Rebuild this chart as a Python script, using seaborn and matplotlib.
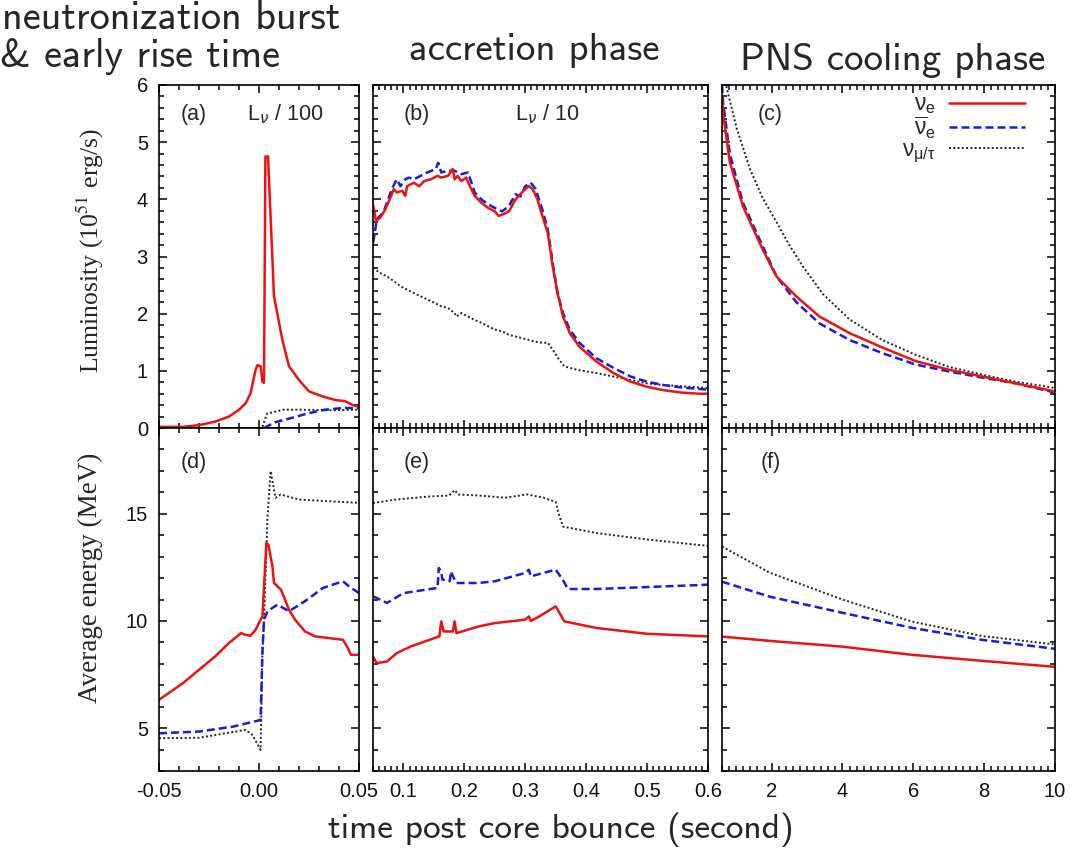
import numpy as np
import pandas as pd
import seaborn as sns
import matplotlib.pyplot as plt
from matplotlib.ticker import MultipleLocator

# ---- (a) luminosity / 100, burst ----
ta_nue = [-0.05, -0.038, -0.03, -0.022, -0.015, -0.01, -0.0067, -0.0042, -0.0017, -0.0008, 0.0008,
          0.0017, 0.0025, 0.0032, 0.0045, 0.0075, 0.0117, 0.015, 0.02, 0.025, 0.032, 0.038, 0.043, 0.047, 0.05]
La_nue = [0.02, 0.02, 0.05, 0.11, 0.2, 0.32, 0.43, 0.61, 1.02, 1.1, 1.08,
          0.81, 0.79, 4.75, 4.75, 2.3, 1.54, 1.08, 0.84, 0.64, 0.55, 0.49, 0.47, 0.40, 0.37]
ta_nuebar = [0.0025, 0.008, 0.0167, 0.025, 0.033, 0.042, 0.05]
La_nuebar = [0.0, 0.1, 0.18, 0.26, 0.32, 0.35, 0.35]
ta_nux = [0.0017, 0.004, 0.012, 0.02, 0.035, 0.05]
La_nux = [0.02, 0.25, 0.32, 0.32, 0.31, 0.32]

# ---- (b) luminosity / 10, accretion ----
tb_nue = [0.05, 0.055, 0.062, 0.07, 0.081, 0.084, 0.089, 0.098, 0.103, 0.106, 0.117, 0.126, 0.134,
          0.145, 0.156, 0.162, 0.173, 0.181, 0.184, 0.189, 0.195, 0.203, 0.209, 0.217, 0.228, 0.239,
          0.25, 0.256, 0.264, 0.273, 0.278, 0.284, 0.292, 0.3, 0.306, 0.312, 0.32, 0.328, 0.337, 0.345,
          0.353, 0.362, 0.373, 0.389, 0.417, 0.445, 0.473, 0.5, 0.528, 0.556, 0.584, 0.6]
Lb_nue = [3.91, 3.62, 3.68, 3.82, 4.09, 4.18, 4.12, 4.15, 4.06, 4.23, 4.29, 4.23, 4.32,
          4.35, 4.41, 4.38, 4.41, 4.53, 4.35, 4.41, 4.32, 4.38, 4.23, 4.06, 3.94, 3.85,
          3.79, 3.71, 3.74, 3.79, 3.88, 4.0, 4.09, 4.18, 4.23, 4.18, 4.0, 3.71, 3.41, 2.83,
          2.36, 1.95, 1.66, 1.42, 1.16, 0.96, 0.81, 0.72, 0.66, 0.62, 0.6, 0.6]
tb_nuebar = [0.05, 0.053, 0.056, 0.067, 0.081, 0.089, 0.095, 0.103, 0.109, 0.117, 0.128, 0.139,
             0.153, 0.157, 0.162, 0.173, 0.184, 0.195, 0.206, 0.217, 0.228, 0.239, 0.25, 0.262,
             0.273, 0.284, 0.292, 0.3, 0.309, 0.317, 0.328, 0.337, 0.345, 0.353, 0.362, 0.373,
             0.389, 0.417, 0.445, 0.473, 0.5, 0.528, 0.556, 0.6]
Lb_nuebar = [3.24, 3.41, 3.65, 3.77, 4.18, 4.35, 4.23, 4.35, 4.38, 4.35, 4.41, 4.47,
             4.53, 4.64, 4.47, 4.5, 4.5, 4.44, 4.47, 4.12, 4.0, 3.91, 3.85, 3.79,
             3.88, 4.09, 4.05, 4.23, 4.29, 4.18, 3.82, 3.47, 2.89, 2.36, 2.01, 1.72,
             1.49, 1.22, 1.05, 0.9, 0.81, 0.75, 0.71, 0.67]
tb_nux = [0.05, 0.062, 0.073, 0.084, 0.095, 0.106, 0.123, 0.139, 0.151, 0.162, 0.173, 0.184, 0.187,
          0.195, 0.206, 0.217, 0.228, 0.239, 0.25, 0.262, 0.273, 0.284, 0.295, 0.306, 0.317, 0.328,
          0.337, 0.345, 0.356, 0.364, 0.384, 0.417, 0.445, 0.473, 0.5, 0.528, 0.6]
Lb_nux = [2.8, 2.71, 2.65, 2.57, 2.48, 2.42, 2.33, 2.25, 2.19, 2.13, 2.1, 2.01, 1.95,
          2.01, 1.95, 1.89, 1.84, 1.78, 1.72, 1.69, 1.63, 1.6, 1.57, 1.54, 1.51, 1.49,
          1.49, 1.37, 1.19, 1.08, 1.02, 0.96, 0.9, 0.84, 0.78, 0.75, 0.7]

# ---- (c) luminosity, cooling ----
tc = [0.6, 0.63, 0.82, 1.19, 1.75, 2.14, 2.7, 3.35, 4.2, 5.12, 6.07, 7.0, 7.96, 8.9, 10.0]
Lc_nue = [5.8, 5.5, 4.65, 3.88, 3.12, 2.65, 2.3, 1.95, 1.66, 1.41, 1.17, 1.02, 0.9, 0.78, 0.64]
Lc_nuebar = [6.0, 5.7, 4.8, 3.94, 3.18, 2.65, 2.2, 1.83, 1.54, 1.31, 1.11, 0.99, 0.88, 0.78, 0.62]
tc_nux = [0.65, 0.74, 1.02, 1.39, 1.75, 2.14, 2.5, 2.88, 3.44, 4.2, 5.12, 6.07, 7.0, 7.96, 8.9, 10.0]
Lc_nux = [6.2, 5.93, 5.23, 4.53, 4.02, 3.6, 3.2, 2.83, 2.35, 1.9, 1.54, 1.28, 1.07, 0.93, 0.81, 0.7]

# ---- (d) mean energy, burst ----
td_nue = [-0.05, -0.038, -0.03, -0.022, -0.015, -0.009, -0.0067, -0.0042, -0.0017, 0.0008, 0.0017,
          0.0037, 0.0047, 0.0067, 0.0075, 0.011, 0.015, 0.018, 0.023, 0.028, 0.035, 0.042, 0.044, 0.046, 0.05]
Ed_nue = [6.32, 7.1, 7.72, 8.34, 8.97, 9.43, 9.35, 9.31, 9.59, 10.06, 10.21,
          13.64, 13.56, 12.55, 11.77, 11.46, 10.52, 10.06, 9.51, 9.28, 9.2, 9.12, 8.81, 8.42, 8.42]
td_nuebar = [-0.05, -0.03, -0.013, 0.0008, 0.0017, 0.0025, 0.0042, 0.0092, 0.015, 0.023, 0.032, 0.042, 0.045, 0.05]
Ed_nuebar = [4.76, 4.84, 5.07, 5.38, 8.5, 10.06, 10.45, 10.76, 10.45, 10.92, 11.54, 11.85, 11.61, 11.3]
td_nux = [-0.05, -0.03, -0.0067, -0.0033, 0.0008, 0.0017, 0.0025, 0.0042, 0.0058, 0.0083, 0.0108, 0.02, 0.05]
Ed_nux = [4.53, 4.55, 4.92, 4.68, 3.98, 8.5, 10.06, 14.73, 16.99, 15.74, 15.9, 15.66, 15.51]

# ---- (e) mean energy, accretion ----
te_nue = [0.05, 0.056, 0.073, 0.089, 0.112, 0.159, 0.162, 0.166, 0.181, 0.184, 0.187,
          0.223, 0.25, 0.3, 0.306, 0.309, 0.323, 0.35, 0.364, 0.417, 0.5, 0.6]
Ee_nue = [8.34, 8.03, 8.11, 8.5, 8.81, 9.28, 9.98, 9.51, 9.51, 9.98, 9.43,
          9.74, 9.9, 10.06, 10.21, 10.0, 10.21, 10.68, 9.98, 9.67, 9.4, 9.28]
te_nuebar = [0.05, 0.073, 0.1, 0.156, 0.158, 0.162, 0.164, 0.176, 0.178, 0.181, 0.187,
             0.223, 0.25, 0.3, 0.306, 0.309, 0.35, 0.362, 0.37, 0.417, 0.6]
Ee_nuebar = [11.15, 10.84, 11.3, 11.54, 12.47, 12.3, 11.93, 11.85, 12.31, 12.1, 11.77,
             11.77, 11.85, 12.24, 12.39, 12.08, 12.39, 11.9, 11.49, 11.49, 11.69]
te_nux = [0.05, 0.084, 0.14, 0.175, 0.184, 0.19, 0.223, 0.267, 0.303, 0.33, 0.35, 0.355, 0.362, 0.417, 0.5, 0.6]
Ee_nux = [15.5, 15.65, 15.8, 15.85, 16.1, 15.9, 15.85, 15.75, 15.9, 15.75, 15.55, 15.0, 14.4, 14.1, 13.8, 13.5]

# ---- (f) mean energy, cooling ----
tf = [0.6, 1.95, 4.0, 5.96, 7.93, 10.0]
Ef_nue = [9.27, 9.07, 8.8, 8.42, 8.14, 7.86]
Ef_nuebar = [11.83, 11.13, 10.38, 9.68, 9.12, 8.7]
Ef_nux = [13.47, 12.25, 11.0, 9.97, 9.3, 8.9]

labels = [r'$\mathregular{\nu_e}$', r'$\mathregular{\overline{\nu}_e}$', r'$\mathregular{\nu_{\mu/\tau}}$']

sns.set_theme(style='ticks')
plt.rcParams['font.family'] = ['Liberation Sans', 'DejaVu Sans']
plt.rcParams['axes.unicode_minus'] = False
plt.rcParams['axes.linewidth'] = 1.2
plt.rcParams['axes.edgecolor'] = 'black'

sty_e = dict(color='#ee1111', linewidth=1.8, linestyle='-')
sty_eb = dict(color='#1a1adb', linewidth=1.8, linestyle=(0, (3.2, 1.6)))
sty_x = dict(color='#222222', linewidth=1.4, linestyle=(0, (1, 1.2)))

W, H = 1085, 848
fig = plt.figure(figsize=(W / 100, H / 100), dpi=100)


def box(l, r, t, b):
    return [l / W, 1 - b / H, (r - l) / W, (b - t) / H]


cols = [(159, 359), (373, 708), (722, 1055)]
rows = [(85, 428), (428, 771)]
axes = [[fig.add_axes(box(c[0], c[1], r[0], r[1])) for c in cols] for r in rows]

panels = [
    [(ta_nue, La_nue, ta_nuebar, La_nuebar, ta_nux, La_nux),
     (tb_nue, Lb_nue, tb_nuebar, Lb_nuebar, tb_nux, Lb_nux),
     (tc, Lc_nue, tc, Lc_nuebar, tc_nux, Lc_nux)],
    [(td_nue, Ed_nue, td_nuebar, Ed_nuebar, td_nux, Ed_nux),
     (te_nue, Ee_nue, te_nuebar, Ee_nuebar, te_nux, Ee_nux),
     (tf, Ef_nue, tf, Ef_nuebar, tf, Ef_nux)],
]

xlims = [(-0.05, 0.05), (0.05, 0.6), (0.6, 10)]
xmajor = [[-0.05, 0.0, 0.05], [0.1, 0.2, 0.3, 0.4, 0.5, 0.6], [2, 4, 6, 8, 10]]
xmajor_lab = [['-0.05', '0.00', '0.05'], ['0.1', '0.2', '0.3', '0.4', '0.5', '0.6'], ['2', '4', '6', '8', '10']]
xminor = [0.01, 0.01, 0.2]
tags = [['(a)', '(b)', '(c)'], ['(d)', '(e)', '(f)']]
tag_x = [0.175, 0.13, 0.145]

for i in range(2):
    for j in range(3):
        ax = axes[i][j]
        t1, y1, t2, y2, t3, y3 = panels[i][j]
        sns.lineplot(x=t3, y=y3, ax=ax, estimator=None, sort=False, label=labels[2], **sty_x)
        sns.lineplot(x=t2, y=y2, ax=ax, estimator=None, sort=False, label=labels[1], **sty_eb)
        sns.lineplot(x=t1, y=y1, ax=ax, estimator=None, sort=False, label=labels[0], **sty_e)
        ax.set_xlim(*xlims[j])
        if i == 0:
            ax.set_ylim(0, 6)
            ax.yaxis.set_major_locator(MultipleLocator(1))
            ax.yaxis.set_minor_locator(MultipleLocator(0.2))
        else:
            ax.set_ylim(3, 19)
            ax.yaxis.set_major_locator(MultipleLocator(5))
            ax.yaxis.set_minor_locator(MultipleLocator(1))
        ax.set_xticks(xmajor[j])
        ax.set_xticklabels(xmajor_lab[j])
        ax.xaxis.set_minor_locator(MultipleLocator(xminor[j]))
        ax.tick_params(which='both', direction='in', top=True, right=True,
                       width=1.1, color='black', labelsize=14.5, labelcolor='#111111')
        ax.tick_params(which='major', length=6, pad=8)
        ax.tick_params(which='minor', length=3.5)
        ax.set_xlabel('')
        ax.set_ylabel('')
        if i == 0:
            ax.tick_params(labelbottom=False)
        if j > 0:
            ax.tick_params(labelleft=False)
        if ax.get_legend() is not None:
            ax.get_legend().remove()
        ytag = 0.915 if i == 0 else 0.898
        ax.text(tag_x[j], ytag, tags[i][j], transform=ax.transAxes,
                ha='center', va='center', fontsize=15.5)

axes[0][0].set_yticks([0, 1, 2, 3, 4, 5, 6])
axes[1][0].set_yticks([5, 10, 15])

axes[0][0].text(0.63, 0.915, r'L$_\nu$ / 100', transform=axes[0][0].transAxes,
                ha='center', va='center', fontsize=15.5)
axes[0][1].text(0.52, 0.915, r'L$_\nu$ / 10', transform=axes[0][1].transAxes,
                ha='center', va='center', fontsize=15.5)

axc = axes[0][2]
h = axc.get_lines()
axc.legend(handles=[h[2], h[1], h[0]], labels=labels, loc='upper right',
           bbox_to_anchor=(0.91, 0.978), frameon=False, borderpad=0, borderaxespad=0,
           markerfirst=False, fontsize=16.5, handlelength=3.3, labelspacing=-0.1,
           handletextpad=0.6)

cm = ['cmss10', 'DejaVu Sans']
fig.text(2 / W, 1 - 29 / H, 'neutronization burst', family=cm, fontsize=29, va='baseline', ha='left')
fig.text(0 / W, 1 - 67 / H, '& early rise time', family=cm, fontsize=29, va='baseline', ha='left')
fig.text(534 / W, 1 - 60 / H, 'accretion phase', family=cm, fontsize=28, va='baseline', ha='center')
fig.text(893 / W, 1 - 70 / H, 'PNS cooling phase', family=cm, fontsize=28, va='baseline', ha='center')
fig.text(561 / W, 1 - 838 / H, 'time post core bounce (second)', family=cm, fontsize=25.5,
         va='baseline', ha='center')

fig.text(90 / W, 1 - 250 / H, r'Luminosity (10$^{51}$ erg/s)', family='Liberation Serif',
         math_fontfamily='stix', fontsize=18.5, rotation=90, ha='center', va='center')
fig.text(90 / W, 1 - 578 / H, 'Average energy (MeV)', family='Liberation Serif',
         fontsize=19.5, rotation=90, ha='center', va='center')

fig.savefig('out.png', dpi=100)
